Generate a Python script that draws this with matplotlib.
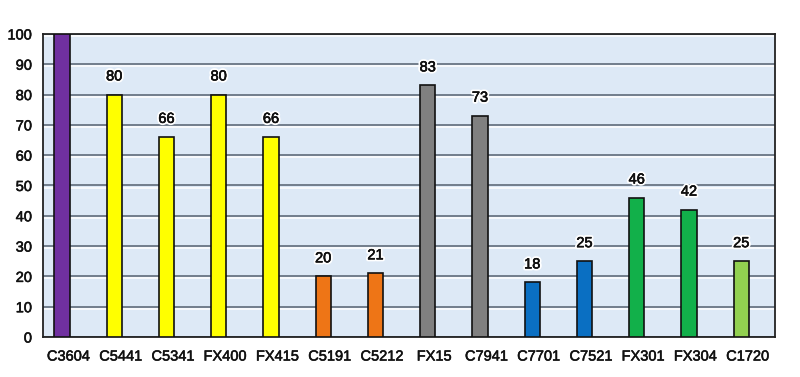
import matplotlib.pyplot as plt
import matplotlib.patheffects as pe
import matplotlib.transforms as mtransforms

plt.rcParams['font.family'] = ['Liberation Sans', 'DejaVu Sans']

models = ['C3604', 'C5441', 'C5341', 'FX400', 'FX415', 'C5191', 'C5212',
          'FX15', 'C7941', 'C7701', 'C7521', 'FX301', 'FX304', 'C1720']
values = [100, 80, 66, 80, 66, 20, 21, 83, 73, 18, 25, 46, 42, 25]
labels = ['', '80', '66', '80', '66', '20', '21', '83', '73', '18', '25', '46', '42', '25']
colors = ['#7030a0', '#ffff00', '#ffff00', '#ffff00', '#ffff00', '#ee7516', '#ee7516',
          '#808080', '#808080', '#0a6fc2', '#0a6fc2', '#12b04a', '#12b04a', '#92d050']

fig = plt.figure(figsize=(8, 3.77), dpi=100)
ax = fig.add_axes([0.054, 0.106, 0.915, 0.804])
ax.set_facecolor('#dde9f6')

thick = [pe.withStroke(linewidth=0.4, foreground='#111111')]
halo = [pe.withStroke(linewidth=3, foreground='white'),
        pe.withStroke(linewidth=0.4, foreground='#111111')]

x = range(len(models))
bars = ax.bar(x, values, width=0.29, color=colors, edgecolor='#111111', linewidth=1.2, zorder=3)
for b, lab in zip(bars, labels):
    if lab:
        ax.annotate(lab, (b.get_x() + b.get_width() / 2, b.get_height()),
                    xytext=(0, 8), textcoords='offset points', ha='center', va='bottom',
                    fontsize=10.5, color='#111111', path_effects=halo, zorder=4)

ax.set_ylim(0, 100)
ax.set_xlim(-0.36, 13.65)
ax.set_yticks(range(0, 101, 10))
ax.set_xticks(list(x))
ax.set_xticklabels(models)
ax.tick_params(axis='both', length=0, labelsize=10.5, colors='#111111')
ax.tick_params(axis='x', pad=9)
ax.tick_params(axis='y', pad=8)
# category labels sit a little right of the bars in the original
shift = mtransforms.ScaledTranslation(0.065, 0, fig.dpi_scale_trans)
for t in ax.get_xticklabels():
    t.set_transform(t.get_transform() + shift)
for t in ax.get_xticklabels() + ax.get_yticklabels():
    t.set_path_effects(thick)

ax.yaxis.grid(True, color='#55606f', linewidth=1.1, zorder=1)
for gl in ax.yaxis.get_gridlines():
    gl.set_path_effects([pe.SimpleLineShadow(offset=(0, -1.5), shadow_color='white', alpha=1),
                         pe.Normal()])
ax.set_axisbelow(True)
for sp in ax.spines.values():
    sp.set_color('#222222')
    sp.set_linewidth(1.3)

fig.savefig('out.png', dpi=100)
